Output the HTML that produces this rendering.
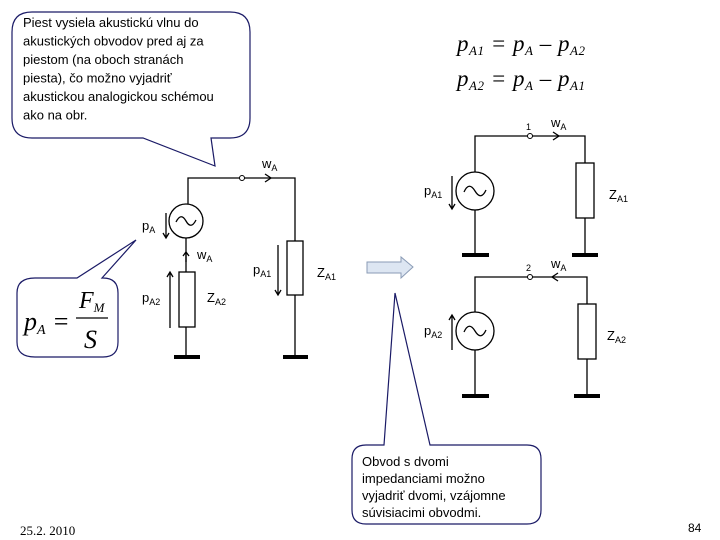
<!DOCTYPE html>
<html><head><meta charset="utf-8"><style>
html,body{margin:0;padding:0;background:#fff;}
svg{display:block;}
.s{font-family:"Liberation Sans",Arial,sans-serif;}
.m{font-family:"Liberation Serif",serif;font-style:italic;}
</style></head><body>
<svg width="720" height="540" viewBox="0 0 720 540" xmlns="http://www.w3.org/2000/svg">
<g fill="#fff" stroke="#1a1a66" stroke-width="1.2">
<path d="M32,12 H230 Q250,12 250,32 V118 Q250,138 230,138 H211 L215,166 L143,138 H32 Q12,138 12,118 V32 Q12,12 32,12 Z"/>
<path d="M35,278 H77 L136,240 L102,278 H103 Q118,278 118,293 V342 Q118,357 103,357 H35 Q17,357 17,342 V293 Q17,278 35,278 Z"/>
<path d="M366,445 H384 L395,293 L430,445 H527 Q541,445 541,459 V510 Q541,524 527,524 H366 Q352,524 352,510 V459 Q352,445 366,445 Z"/>
</g>
<g class="s" font-size="13" fill="#000">
<text x="23" y="27">Piest vysiela akustickú vlnu do</text>
<text x="23" y="45.5">akustických obvodov pred aj za</text>
<text x="23" y="64">piestom (na oboch stranách</text>
<text x="23" y="82.5">piesta), čo možno vyjadriť</text>
<text x="23" y="101">akustickou analogickou schémou</text>
<text x="23" y="119.5">ako na obr.</text>
<text x="362" y="466">Obvod s dvomi</text>
<text x="362" y="483">impedanciami možno</text>
<text x="362" y="500">vyjadriť dvomi, vzájomne</text>
<text x="362" y="517">súvisiacimi obvodmi.</text>
</g>
<g class="m" fill="#000">
<text x="24" y="330" font-size="26">p<tspan font-size="14" dy="4">A</tspan><tspan dy="-4"> =</tspan></text>
<text x="79" y="308" font-size="24">F<tspan font-size="13" dy="4">M</tspan></text>
<line x1="76" y1="318" x2="108" y2="318" stroke="#000" stroke-width="1.3"/>
<text x="84" y="348" font-size="26">S</text>
<text x="457" y="51" font-size="23" textLength="128">p<tspan font-size="13" dy="4">A1</tspan><tspan dy="-4"> = p</tspan><tspan font-size="13" dy="4">A</tspan><tspan dy="-4"> – p</tspan><tspan font-size="13" dy="4">A2</tspan></text>
<text x="457" y="86" font-size="23" textLength="128">p<tspan font-size="13" dy="4">A2</tspan><tspan dy="-4"> = p</tspan><tspan font-size="13" dy="4">A</tspan><tspan dy="-4"> – p</tspan><tspan font-size="13" dy="4">A1</tspan></text>
</g>
<g stroke="#000" stroke-width="1.3" fill="none">
<path d="M188,204 V178 H295 V241 M295,295 V357 M186,238 V272 M186,327 V357"/>
<circle cx="186" cy="221" r="17"/>
<path d="M176,222 Q181,212 186,221 Q191,230 196,220"/>
<rect x="179" y="272" width="16" height="55"/>
<rect x="287" y="241" width="16" height="54"/>
<path d="M265,174 L271,178 L265,182"/>
<path d="M166,213 V238 M163,233 L166,238 L169,233"/>
<path d="M186,252 V262 M183,256 L186,252 L189,256" />
<path d="M170,272 V328 M167,277 L170,272 L173,277"/>
<path d="M278,245 V295 M275,290 L278,295 L281,290"/>
<path d="M475,172 V136 H585 V163 M585,218 V255 M475,210 V255"/>
<circle cx="475" cy="191" r="19"/>
<path d="M464,192 Q469,181 475,191 Q481,201 486,190"/>
<rect x="576" y="163" width="18" height="55"/>
<path d="M553,132 L559,136 L553,140"/>
<path d="M452,176 V209 M449,204 L452,209 L455,204"/>
<path d="M475,312 V277 H587 V304 M587,359 V396 M475,350 V396"/>
<circle cx="475" cy="331" r="19"/>
<path d="M464,332 Q469,321 475,331 Q481,341 486,330"/>
<rect x="578" y="304" width="18" height="55"/>
<path d="M558,273 L552,277 L558,281"/>
<path d="M452,315 V350 M449,320 L452,315 L455,320"/>
</g>
<g stroke="#000" stroke-width="4">
<line x1="174" y1="357" x2="200" y2="357"/>
<line x1="283" y1="357" x2="308" y2="357"/>
<line x1="462" y1="255" x2="489" y2="255"/>
<line x1="572" y1="255" x2="598" y2="255"/>
<line x1="462" y1="396" x2="489" y2="396"/>
<line x1="574" y1="396" x2="600" y2="396"/>
</g>
<g fill="#fff" stroke="#000" stroke-width="1">
<circle cx="242" cy="178" r="2.5"/>
<circle cx="530" cy="136" r="2.5"/>
<circle cx="530" cy="277" r="2.5"/>
</g>
<path d="M367,262 H401 V257 L413,267 L401,278 V273 H367 Z" fill="#dde6f2" stroke="#8a9bb5" stroke-width="1"/>
<g class="s" fill="#000" font-size="13">
<text x="262" y="168">w<tspan font-size="9" dy="3">A</tspan></text>
<text x="142" y="230">p<tspan font-size="9" dy="3">A</tspan></text>
<text x="197" y="259">w<tspan font-size="9" dy="3">A</tspan></text>
<text x="142" y="302">p<tspan font-size="9" dy="3">A2</tspan></text>
<text x="207" y="302">Z<tspan font-size="9" dy="3">A2</tspan></text>
<text x="253" y="274">p<tspan font-size="9" dy="3">A1</tspan></text>
<text x="317" y="277">Z<tspan font-size="9" dy="3">A1</tspan></text>
<text x="551" y="127">w<tspan font-size="9" dy="3">A</tspan></text>
<text x="424" y="195">p<tspan font-size="9" dy="3">A1</tspan></text>
<text x="609" y="199">Z<tspan font-size="9" dy="3">A1</tspan></text>
<text x="551" y="268">w<tspan font-size="9" dy="3">A</tspan></text>
<text x="424" y="335">p<tspan font-size="9" dy="3">A2</tspan></text>
<text x="607" y="340">Z<tspan font-size="9" dy="3">A2</tspan></text>
<text x="526" y="130" font-size="9">1</text>
<text x="526" y="271" font-size="9">2</text>
<text x="688" y="532" font-size="12">84</text>
</g>
<text x="20" y="535" font-family="'Liberation Serif',serif" font-size="13" fill="#000">25.2. 2010</text>
</svg>
</body></html>
